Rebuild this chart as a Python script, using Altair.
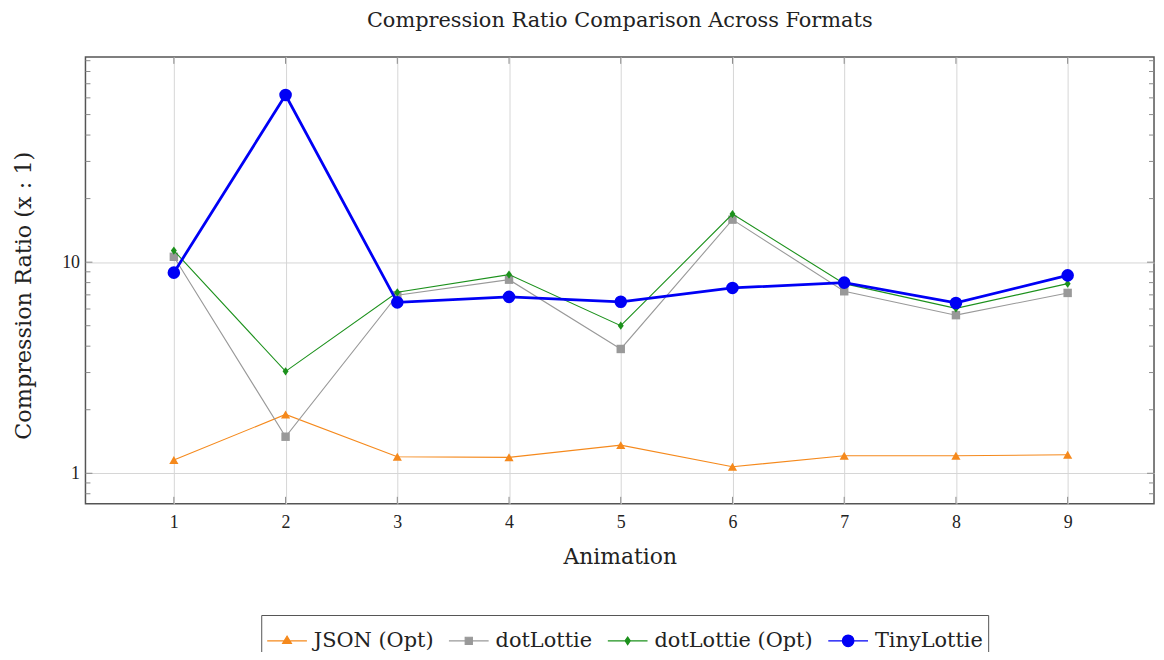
import altair as alt
import pandas as pd

# ---------------- data ----------------
animation = [1, 2, 3, 4, 5, 6, 7, 8, 9]
json_opt = [1.155, 1.90, 1.197, 1.19, 1.36, 1.074, 1.21, 1.21, 1.223]
dotlottie = [10.6, 1.49, 6.97, 8.26, 3.88, 15.9, 7.28, 5.61, 7.15]
dotlottie_opt = [11.35, 3.04, 7.2, 8.73, 5.0, 16.9, 7.91, 6.04, 7.91]
tinylottie = [8.92, 61.9, 6.45, 6.85, 6.49, 7.55, 8.0, 6.41, 8.66]

series_names = ["JSON (Opt)", "dotLottie", "dotLottie (Opt)", "TinyLottie"]
series_values = [json_opt, dotlottie, dotlottie_opt, tinylottie]

y_major = [1, 10]
y_minor = [0.8, 0.9, 2, 3, 4, 5, 6, 7, 8, 9, 20, 30, 40, 50, 60, 70, 80, 90]

# ---------------- styles ----------------
series_colors = ["#f5891c", "#999999", "#1c911c", "#0000f5"]
marker_shapes = ["triangle-up", "square", "M0,-1L0.72,0L0,1L-0.72,0Z", "circle"]
marker_sizes = [85, 72, 70, 160]
line_widths = [1.1, 1.1, 1.1, 2.8]
legend_paths = [
    "M-1,0L1,0M-0.22,0.13L0,-0.24L0.22,0.13Z",
    "M-1,0L1,0M-0.18,-0.18L0.18,-0.18L0.18,0.18L-0.18,0.18Z",
    "M-1,0L1,0M0,-0.19L0.13,0L0,0.19L-0.13,0Z",
    "M-1,0L1,0M-0.29,0A0.29,0.29 0 1,0 0.29,0A0.29,0.29 0 1,0 -0.29,0Z",
]
legend_widths = [1.2, 1.2, 1.2, 2.8]

TEXT = "#222222"
GRID = "#d6d6d6"
TICK = "#8a8a8a"
SERIF = "DejaVu Serif"
NUM = "Liberation Serif"

W, H = 1076, 450
X_DOMAIN = [0.2089, 9.773]
Y_DOMAIN = [0.717, 93.8]

rows = []
for name, vals in zip(series_names, series_values):
    for a, v in zip(animation, vals):
        rows.append({"animation": a, "ratio": v, "series": name})
df = pd.DataFrame(rows)

x_scale = alt.Scale(domain=X_DOMAIN, nice=False, zero=False)
y_scale = alt.Scale(type="log", domain=Y_DOMAIN, nice=False)
color_scale = alt.Scale(domain=series_names, range=series_colors)
stroke_scale = alt.Scale(domain=series_names, range=series_colors)
shape_scale = alt.Scale(domain=series_names, range=legend_paths)
sw_scale = alt.Scale(domain=series_names, range=legend_widths)

x_axis = alt.Axis(
    values=animation, format="d", title="Animation", grid=True, gridColor=GRID,
    gridWidth=1, ticks=False, domain=False, labelFont=NUM, labelFontSize=18,
    labelColor=TEXT, labelPadding=10, titleFont=SERIF, titleFontSize=22,
    titleFontWeight="normal", titleColor=TEXT, titlePadding=15,
)
y_axis = alt.Axis(
    values=y_major, format="d", title="Compression Ratio (x : 1)", grid=True,
    gridColor=GRID, gridWidth=1, ticks=False, domain=False, labelFont=NUM,
    labelFontSize=18, labelColor=TEXT, labelPadding=6, titleFont=SERIF,
    titleFontSize=22.5, titleFontWeight="normal", titleColor=TEXT, titlePadding=26,
    titleY=240,
)

X = alt.X("animation:Q", scale=x_scale, axis=x_axis)
Y = alt.Y("ratio:Q", scale=y_scale, axis=y_axis)

legend_props = dict(
    orient="none", legendX=177, legendY=562, direction="horizontal", columns=4,
    title=None, labelFont=SERIF, labelFontSize=21, labelColor=TEXT, labelOffset=6,
    columnPadding=12, padding=5, strokeColor="#555555", fillColor="white",
    symbolSize=1600, symbolOpacity=1, labelLimit=400,
)
COLOR = alt.Color("series:N", scale=color_scale, legend=alt.Legend(**legend_props))

base = alt.Chart(df)

# inward frame ticks
minor_df = pd.DataFrame({"ratio": y_minor})
major_df = pd.DataFrame({"ratio": y_major})
xt_df = pd.DataFrame({"animation": animation})

tick_layers = [
    alt.Chart(minor_df).mark_rule(color=TICK, strokeWidth=1).encode(y=Y, x=alt.value(0), x2=alt.value(5)),
    alt.Chart(minor_df).mark_rule(color=TICK, strokeWidth=1).encode(y=Y, x=alt.value(W - 5), x2=alt.value(W)),
    alt.Chart(major_df).mark_rule(color=TICK, strokeWidth=1).encode(y=Y, x=alt.value(0), x2=alt.value(7)),
    alt.Chart(major_df).mark_rule(color=TICK, strokeWidth=1).encode(y=Y, x=alt.value(W - 7), x2=alt.value(W)),
    alt.Chart(xt_df).mark_rule(color=TICK, strokeWidth=1).encode(x=X, y=alt.value(0), y2=alt.value(7)),
    alt.Chart(xt_df).mark_rule(color=TICK, strokeWidth=1).encode(x=X, y=alt.value(H - 7), y2=alt.value(H)),
]

series_layers = []
for i, name in enumerate(series_names):
    sub = base.transform_filter(alt.datum.series == name)
    series_layers.append(
        sub.mark_line(strokeWidth=line_widths[i]).encode(x=X, y=Y, color=COLOR)
    )
    series_layers.append(
        sub.mark_point(shape=marker_shapes[i], size=marker_sizes[i], filled=True, opacity=1).encode(
            x=X, y=Y, color=COLOR
        )
    )

legend_layer = base.transform_filter("false").mark_point(filled=True, opacity=1).encode(
    x=X,
    y=Y,
    color=COLOR,
    stroke=alt.Stroke("series:N", scale=stroke_scale, legend=alt.Legend(**legend_props)),
    shape=alt.Shape("series:N", scale=shape_scale, legend=alt.Legend(**legend_props)),
    strokeWidth=alt.StrokeWidth("series:N", scale=sw_scale, legend=alt.Legend(**legend_props)),
)

chart = alt.layer(*tick_layers, *series_layers, legend_layer).properties(
    width=W,
    height=H,
    title=alt.TitleParams(
        "Compression Ratio Comparison Across Formats", font=SERIF, fontSize=21,
        fontWeight="normal", color=TEXT, anchor="middle", offset=9, baseline="alphabetic",
    ),
    autosize=alt.AutoSizeParams(type="none"),
    padding={"left": 78, "top": 47, "right": 2, "bottom": 147},
).configure_view(stroke="#555555", strokeWidth=1.5)

chart.save("out.html", embed_options={"renderer": "svg", "actions": False})
